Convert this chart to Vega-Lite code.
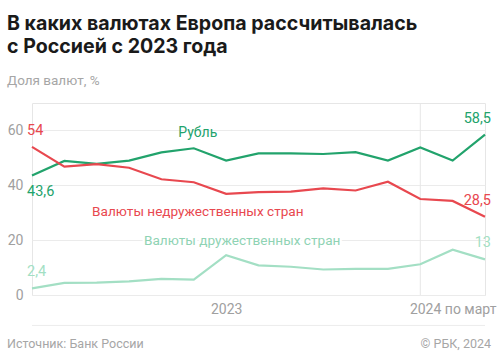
{
  "$schema": "https://vega.github.io/schema/vega-lite/v6.json",
  "autosize": "none",
  "width": 453,
  "height": 192,
  "padding": {"left": 32, "top": 103, "right": 15, "bottom": 65},
  "background": "white",
  "config": {
    "view": {"stroke": "#e6e6e6"},
    "font": "Roboto",
    "locale": {"number": {"decimal": ",", "thousands": " ", "grouping": [3], "currency": ["", " ₽"]}}
  },
  "title": {
    "text": ["В каких валютах Европа рассчитывалась", "с Россией с 2023 года"],
    "subtitle": "Доля валют, %",
    "anchor": "start",
    "frame": "group",
    "dx": -25,
    "offset": 14,
    "font": "Inter",
    "fontSize": 19.6,
    "fontWeight": "bold",
    "color": "#1a1a1a",
    "lineHeight": 23,
    "subtitleFont": "Roboto",
    "subtitleFontSize": 13.5,
    "subtitleColor": "#a6a6a6",
    "subtitlePadding": 16
  },
  "datasets": {
    "d": [
      {"month": "2023-01", "series": "Рубль", "value": 43.6},
      {"month": "2023-02", "series": "Рубль", "value": 48.9},
      {"month": "2023-03", "series": "Рубль", "value": 47.8},
      {"month": "2023-04", "series": "Рубль", "value": 49.0},
      {"month": "2023-05", "series": "Рубль", "value": 52.0},
      {"month": "2023-06", "series": "Рубль", "value": 53.5},
      {"month": "2023-07", "series": "Рубль", "value": 49.0},
      {"month": "2023-08", "series": "Рубль", "value": 51.6},
      {"month": "2023-09", "series": "Рубль", "value": 51.6},
      {"month": "2023-10", "series": "Рубль", "value": 51.4},
      {"month": "2023-11", "series": "Рубль", "value": 52.1},
      {"month": "2023-12", "series": "Рубль", "value": 49.0},
      {"month": "2024-01", "series": "Рубль", "value": 53.8},
      {"month": "2024-02", "series": "Рубль", "value": 49.0},
      {"month": "2024-03", "series": "Рубль", "value": 58.5},
      {"month": "2023-01", "series": "Валюты недружественных стран", "value": 54.0},
      {"month": "2023-02", "series": "Валюты недружественных стран", "value": 46.8},
      {"month": "2023-03", "series": "Валюты недружественных стран", "value": 47.7},
      {"month": "2023-04", "series": "Валюты недружественных стран", "value": 46.4},
      {"month": "2023-05", "series": "Валюты недружественных стран", "value": 42.2},
      {"month": "2023-06", "series": "Валюты недружественных стран", "value": 41.1},
      {"month": "2023-07", "series": "Валюты недружественных стран", "value": 36.9},
      {"month": "2023-08", "series": "Валюты недружественных стран", "value": 37.5},
      {"month": "2023-09", "series": "Валюты недружественных стран", "value": 37.7},
      {"month": "2023-10", "series": "Валюты недружественных стран", "value": 38.9},
      {"month": "2023-11", "series": "Валюты недружественных стран", "value": 38.1},
      {"month": "2023-12", "series": "Валюты недружественных стран", "value": 41.3},
      {"month": "2024-01", "series": "Валюты недружественных стран", "value": 35.0},
      {"month": "2024-02", "series": "Валюты недружественных стран", "value": 34.3},
      {"month": "2024-03", "series": "Валюты недружественных стран", "value": 28.5},
      {"month": "2023-01", "series": "Валюты дружественных стран", "value": 2.4},
      {"month": "2023-02", "series": "Валюты дружественных стран", "value": 4.4},
      {"month": "2023-03", "series": "Валюты дружественных стран", "value": 4.5},
      {"month": "2023-04", "series": "Валюты дружественных стран", "value": 5.0},
      {"month": "2023-05", "series": "Валюты дружественных стран", "value": 5.9},
      {"month": "2023-06", "series": "Валюты дружественных стран", "value": 5.6},
      {"month": "2023-07", "series": "Валюты дружественных стран", "value": 14.5},
      {"month": "2023-08", "series": "Валюты дружественных стран", "value": 10.8},
      {"month": "2023-09", "series": "Валюты дружественных стран", "value": 10.3},
      {"month": "2023-10", "series": "Валюты дружественных стран", "value": 9.3},
      {"month": "2023-11", "series": "Валюты дружественных стран", "value": 9.5},
      {"month": "2023-12", "series": "Валюты дружественных стран", "value": 9.5},
      {"month": "2024-01", "series": "Валюты дружественных стран", "value": 11.2},
      {"month": "2024-02", "series": "Валюты дружественных стран", "value": 16.5},
      {"month": "2024-03", "series": "Валюты дружественных стран", "value": 13.0}
    ],
    "marks": [{"month": "2024-01"}]
  },
  "data": {"name": "d"},
  "encoding": {
    "x": {
      "field": "month",
      "type": "ordinal",
      "sort": null,
      "scale": {
        "type": "point",
        "padding": 0,
        "domain": ["2023-01", "2023-02", "2023-03", "2023-04", "2023-05", "2023-06", "2023-07", "2023-08", "2023-09", "2023-10", "2023-11", "2023-12", "2024-01", "2024-02", "2024-03"]
      },
      "axis": {
        "values": ["2023-07", "2024-02"],
        "labelExpr": "datum.value == '2023-07' ? '2023' : '2024 по март'",
        "labelAngle": 0,
        "labelColor": "#a0a0a0",
        "labelFontSize": 14,
        "labelFont": "Roboto",
        "labelPadding": 7,
        "labelBound": false,
        "labelOverlap": false,
        "labelFlush": false,
        "domain": false,
        "ticks": false,
        "grid": false,
        "title": null
      }
    },
    "y": {
      "field": "value",
      "type": "quantitative",
      "scale": {"domain": [0, 70], "nice": false, "zero": false},
      "axis": {
        "values": [0, 20, 40, 60],
        "grid": true,
        "gridColor": "#ebebeb",
        "domain": false,
        "ticks": false,
        "labelColor": "#a0a0a0",
        "labelFontSize": 14,
        "labelFont": "Roboto",
        "labelPadding": 9,
        "title": null
      }
    },
    "color": {
      "field": "series",
      "type": "nominal",
      "legend": null,
      "scale": {
        "domain": ["Рубль", "Валюты недружественных стран", "Валюты дружественных стран"],
        "range": ["#22a36c", "#e8484f", "#a3dfc4"]
      }
    }
  },
  "layer": [
    {
      "data": {"name": "marks"},
      "mark": {"type": "rule", "color": "#e6e6e6", "strokeWidth": 1},
      "encoding": {"y": null, "color": null}
    },
    {
      "mark": {"type": "line", "strokeWidth": 2.2, "interpolate": "linear"},
      "encoding": {"order": {"field": "month"}}
    },
    {
      "mark": {"type": "text", "fontSize": 14.5, "align": "left", "baseline": "alphabetic", "dx": -5, "dy": -12},
      "transform": [{"filter": "datum.month == '2023-01' && datum.series != 'Рубль'"}],
      "encoding": {"text": {"field": "value", "type": "quantitative", "format": ".1~f"}}
    },
    {
      "mark": {"type": "text", "fontSize": 14.5, "align": "left", "baseline": "alphabetic", "dx": -5, "dy": 21},
      "transform": [{"filter": "datum.month == '2023-01' && datum.series == 'Рубль'"}],
      "encoding": {"text": {"field": "value", "type": "quantitative", "format": ".1~f"}}
    },
    {
      "mark": {"type": "text", "fontSize": 14.5, "align": "right", "baseline": "alphabetic", "dx": 6, "dy": -12},
      "transform": [{"filter": "datum.month == '2024-03'"}],
      "encoding": {"text": {"field": "value", "type": "quantitative", "format": ".1~f"}}
    },
    {
      "transform": [{"filter": "datum.month == '2023-06' && datum.series == 'Рубль'"}],
      "mark": {"type": "text", "fontSize": 14, "align": "center", "baseline": "alphabetic", "dx": 4, "dy": -11},
      "encoding": {"text": {"field": "series"}}
    },
    {
      "transform": [{"filter": "datum.month == '2023-06' && datum.series == 'Валюты недружественных стран'"}],
      "mark": {"type": "text", "fontSize": 13.6, "align": "center", "baseline": "alphabetic", "dx": 4, "dy": 34},
      "encoding": {"text": {"field": "series"}}
    },
    {
      "transform": [{"filter": "datum.month == '2023-07' && datum.series == 'Валюты дружественных стран'"}],
      "mark": {"type": "text", "fontSize": 13.6, "align": "center", "baseline": "alphabetic", "dx": 16, "dy": -10, "color": "white", "stroke": "white", "strokeWidth": 5},
      "encoding": {"text": {"field": "series"}, "color": null}
    },
    {
      "transform": [{"filter": "datum.month == '2023-07' && datum.series == 'Валюты дружественных стран'"}],
      "mark": {"type": "text", "fontSize": 13.6, "align": "center", "baseline": "alphabetic", "dx": 16, "dy": -10},
      "encoding": {"text": {"field": "series"}, "color": {"value": "#8fd3b4"}}
    },
    {
      "transform": [{"filter": "datum.month == '2023-01' && datum.series == 'Рубль'"}],
      "mark": {"type": "rule", "color": "#ececec", "strokeWidth": 1},
      "encoding": {"x": null, "y": {"datum": -11.1}, "color": null}
    },
    {
      "transform": [{"filter": "datum.month == '2023-01' && datum.series == 'Рубль'"}],
      "mark": {"type": "text", "fontSize": 12.5, "align": "left", "baseline": "alphabetic", "dx": -25, "color": "#a6a6a6"},
      "encoding": {"x": {"datum": "2023-01"}, "y": {"datum": -19.2}, "text": {"value": "Источник: Банк России"}, "color": null}
    },
    {
      "transform": [{"filter": "datum.month == '2023-01' && datum.series == 'Рубль'"}],
      "mark": {"type": "text", "fontSize": 12.5, "align": "right", "baseline": "alphabetic", "dx": 6, "color": "#a6a6a6"},
      "encoding": {"x": {"datum": "2024-03"}, "y": {"datum": -19.2}, "text": {"value": "© РБК, 2024"}, "color": null}
    }
  ]
}
